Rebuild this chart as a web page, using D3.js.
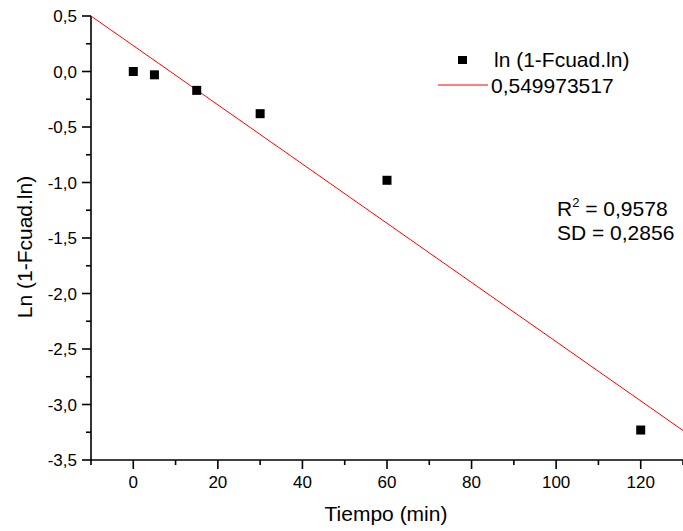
<!DOCTYPE html>
<html>
<head>
<meta charset="UTF-8">
<script src="https://d3js.org/d3.v7.min.js"></script>
<style>
  body { margin: 0; background: #fff; }
  text { font-family: "Liberation Sans", Arial, sans-serif; fill: #000; }
</style>
</head>
<body>
<svg width="683" height="531"></svg>
<script>
// data
const tiempo = [0, 5, 15, 30, 60, 120];
const lnVals = [0.0, -0.03, -0.17, -0.38, -0.98, -3.23];
// fitted line end points
const fitX = [-10, 130];
const fitY = [0.5, -3.234];
const xTicks = [0, 20, 40, 60, 80, 100, 120];
const yTicks = [0.5, 0, -0.5, -1, -1.5, -2, -2.5, -3, -3.5];

const svg = d3.select("svg");
const x = d3.scaleLinear().domain([-10, 130]).range([91, 683]);
const y = d3.scaleLinear().domain([-3.5, 0.5]).range([460, 16]);

const fmt = d => d3.format(".1f")(d).replace(".", ",").replace("−", "-");

// minor ticks
const xMinor = d3.range(-10, 131, 10);
const yMinor = d3.range(-3.5, 0.51, 0.25);

const xAxis = svg.append("g").attr("transform", "translate(0,460)");
xAxis.append("line").attr("x1", 90).attr("x2", 683).attr("stroke", "#000").attr("stroke-width", 1.6);
xAxis.selectAll(".mn").data(xMinor).enter().append("line")
  .attr("x1", d => x(d)).attr("x2", d => x(d))
  .attr("y1", 0).attr("y2", d => xTicks.includes(d) ? 9 : 5)
  .attr("stroke", "#000").attr("stroke-width", 1.6);
xAxis.selectAll("text").data(xTicks).enter().append("text")
  .attr("x", d => x(d)).attr("y", 28)
  .attr("text-anchor", "middle").attr("font-size", 17)
  .text(d => d);

const yAxis = svg.append("g").attr("transform", "translate(91,0)");
yAxis.append("line").attr("y1", 16).attr("y2", 461).attr("stroke", "#000").attr("stroke-width", 1.6);
yAxis.selectAll(".mn").data(yMinor).enter().append("line")
  .attr("y1", d => y(d)).attr("y2", d => y(d))
  .attr("x1", 0).attr("x2", d => Math.abs(d * 2 - Math.round(d * 2)) < 1e-6 ? -9 : -5)
  .attr("stroke", "#000").attr("stroke-width", 1.6);
yAxis.selectAll("text").data(yTicks).enter().append("text")
  .attr("x", -14).attr("y", d => y(d) + 6)
  .attr("text-anchor", "end").attr("font-size", 17)
  .text(d => fmt(d));

// axis titles
svg.append("text").attr("x", 386).attr("y", 521).attr("text-anchor", "middle")
  .attr("font-size", 21).text("Tiempo (min)");
svg.append("text").attr("transform", "translate(32,247) rotate(-90)").attr("text-anchor", "middle")
  .attr("font-size", 21).text("Ln (1-Fcuad.ln)");

// fit line
svg.append("line")
  .attr("x1", x(fitX[0])).attr("y1", y(fitY[0]))
  .attr("x2", x(fitX[1])).attr("y2", y(fitY[1]))
  .attr("stroke", "#ff0000").attr("stroke-width", 1);

// points
svg.selectAll(".pt").data(tiempo).enter().append("rect")
  .attr("x", (d, i) => x(d) - 4.5).attr("y", (d, i) => y(lnVals[i]) - 4.5)
  .attr("width", 9).attr("height", 9).attr("fill", "#000");

// legend
const lg = svg.append("g");
lg.append("rect").attr("x", 458).attr("y", 56).attr("width", 9).attr("height", 8).attr("fill", "#000");
lg.append("text").attr("x", 494).attr("y", 67).attr("font-size", 21).text("ln (1-Fcuad.ln)");
lg.append("line").attr("x1", 438).attr("x2", 488).attr("y1", 85).attr("y2", 85)
  .attr("stroke", "#ff0000").attr("stroke-width", 1);
lg.append("text").attr("x", 491).attr("y", 93).attr("font-size", 21).text("0,549973517");

// stats
const st = svg.append("text").attr("x", 557).attr("y", 216).attr("font-size", 21);
st.append("tspan").text("R");
st.append("tspan").attr("dy", -9).attr("font-size", 13).text("2");
st.append("tspan").attr("dy", 9).text(" = 0,9578");
svg.append("text").attr("x", 557).attr("y", 240).attr("font-size", 21).text("SD = 0,2856");
</script>
</body>
</html>
